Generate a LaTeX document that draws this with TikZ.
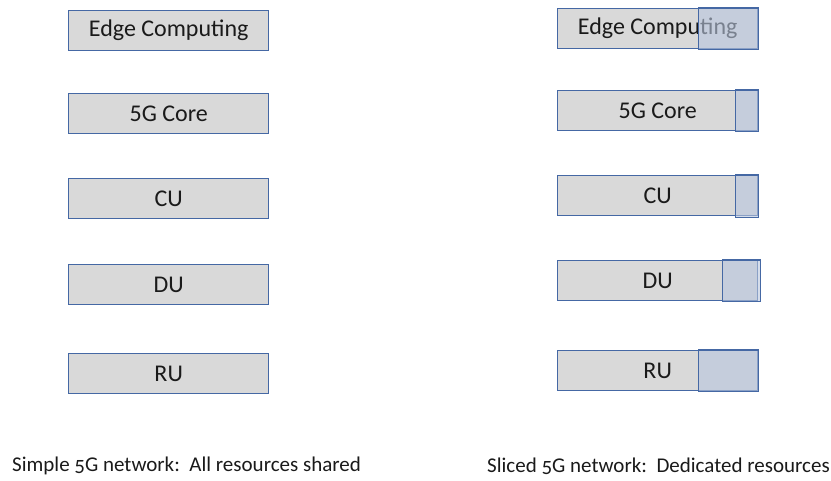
\documentclass[tikz,border=0pt]{standalone}
\usepackage{fontspec}
\setmainfont{Carlito}
\newfontfamily\capfont[Numbers=OldStyle]{Carlito}
\usepackage{tikz}
\usetikzlibrary{calc}
\definecolor{boxgray}{HTML}{D9D9D9}
\definecolor{boxline}{HTML}{4568A4}
\definecolor{slicefill}{HTML}{B9C6DE}
\definecolor{inktext}{HTML}{1A1A1A}

\begin{document}
\begin{tikzpicture}[x=1pt,y=-1pt,
  layer/.style={draw=boxline,line width=1.4pt,fill=boxgray,text=inktext,
    minimum width=200pt,minimum height=40pt,inner sep=0pt,anchor=north west,
    font=\fontsize{24}{24}\selectfont},
  slice/.style={draw=boxline,line width=1.4pt,fill=slicefill,fill opacity=0.6},
  caption/.style={anchor=west,text=inktext,inner sep=0pt,
    font=\capfont\fontsize{21}{21}\selectfont}]
  \useasboundingbox (0,0) rectangle (831,480);
  % shared network
  \node[layer] (ec)  at (68,10)  {Edge Computing};
  \node[layer] (core) at (68,93) {5G Core};
  \node[layer] (cu)  at (68,178) {CU};
  \node[layer] (du)  at (68,264) {DU};
  \node[layer] (ru)  at (68,353) {RU};
  % sliced network
  \node[layer] (sec)  at (557,8)   {Edge Computing};
  \node[layer] (score) at (557,90) {5G Core};
  \node[layer] (scu)  at (557,175) {CU};
  \node[layer] (sdu)  at (557,260) {DU};
  \node[layer] (sru)  at (557,350) {RU};
  % dedicated parts of each layer
  \draw[slice] ($(sec.north east)+(-60,0)$) rectangle (sec.south east);
  \draw[slice] ($(score.north east)+(-23,0)$) rectangle (score.south east);
  \draw[slice] ($(scu.north east)+(-23,0)$) rectangle ($(scu.south east)+(0,1)$);
  \draw[slice] ($(sdu.north east)+(-36,0)$) rectangle ($(sdu.south east)+(2,0)$);
  \draw[slice] ($(sru.north east)+(-60,0)$) rectangle (sru.south east);
  \node[caption] (lcap) at (12,466) {Simple 5G network:\ \ All resources shared};
  \node[caption] (rcap) at (487,466) {Sliced 5G network:\ \ Dedicated resources};
\end{tikzpicture}
\end{document}
